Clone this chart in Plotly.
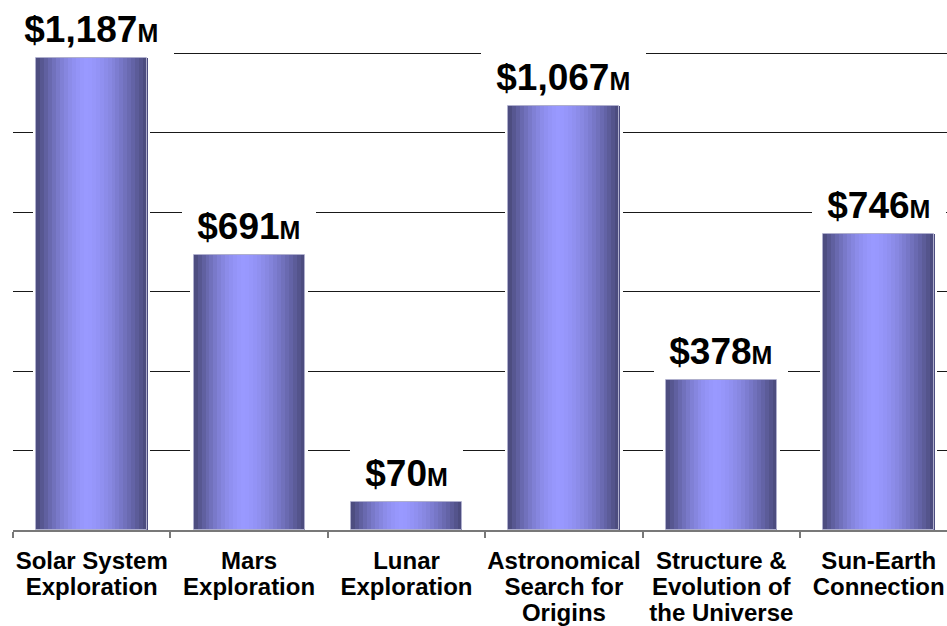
import plotly.graph_objects as go

# Space science budget by theme (millions of US dollars)
program_lines = [
    ["Solar System", "Exploration"],
    ["Mars", "Exploration"],
    ["Lunar", "Exploration"],
    ["Astronomical", "Search for", "Origins"],
    ["Structure &", "Evolution of", "the Universe"],
    ["Sun-Earth", "Connection"],
]
budget_musd = [1187, 691, 70, 1067, 378, 746]

programs = [" ".join(lines) for lines in program_lines]

FONT = "Liberation Sans, Arial, Helvetica, sans-serif"
BAR_W = 0.705          # bar width in category units
N_STRIPS = 28          # vertical strips used to shade each column like a cylinder
DARK = (72, 72, 120)
LIGHT = (153, 153, 255)
PEAK = 0.45            # horizontal position of the highlight
X_RANGE = [-0.5, -0.5 + 934 / 157.4]
LABEL_FONT = dict(family=FONT, size=24, color="black", weight="bold")
LINE_STEP = 26         # px between lines of a category label


def shade(t):
    # brightness profile across the column: dark edges, bright stripe near the middle
    d = (t - PEAK) / (PEAK if t < PEAK else 1 - PEAK)
    f = max(0.0, 1 - abs(d) ** 1.6)
    return "rgb({},{},{})".format(*[round(a + (b - a) * f) for a, b in zip(DARK, LIGHT)])


fig = go.Figure()

# white halo behind each column so the gridlines stop short of it
halo_w = BAR_W + 0.04
fig.add_trace(go.Bar(
    x=programs, y=budget_musd, width=halo_w, offset=-halo_w / 2,
    marker=dict(color="white", line=dict(width=0)), hoverinfo="skip",
))

strip_w = BAR_W / N_STRIPS
for i in range(N_STRIPS):
    t = (i + 0.5) / N_STRIPS
    fig.add_trace(go.Bar(
        x=programs, y=budget_musd,
        width=strip_w * 1.08, offset=-BAR_W / 2 + i * strip_w,
        marker=dict(color=shade(t), line=dict(width=0)), hoverinfo="skip",
    ))

# thin light edge around each column
fig.add_trace(go.Bar(
    x=programs, y=budget_musd, width=BAR_W, offset=-BAR_W / 2,
    marker=dict(color="rgba(0,0,0,0)", line=dict(color="rgb(175,175,205)", width=1)),
    hoverinfo="skip",
))

for p, v in zip(programs, budget_musd):
    fig.add_annotation(
        x=p, y=v, xref="x", yref="y", yanchor="bottom", xanchor="center",
        yshift=3,
        text=f"&nbsp;${v:,}<span style='font-size:25px'>M</span>&nbsp;",
        showarrow=False, bgcolor="white", borderpad=5, borderwidth=0,
        font=dict(family=FONT, size=37, color="black", weight="bold"),
    )


def line_text(k):
    return [lines[k] if k < len(lines) else "" for lines in program_lines]


fig.update_layout(
    width=947, height=626,
    margin=dict(l=13, r=0, t=52, b=96),
    paper_bgcolor="white", plot_bgcolor="white",
    barmode="overlay", bargap=0, showlegend=False,
    xaxis=dict(
        range=X_RANGE,
        tickvals=programs, ticktext=line_text(0),
        showline=True, linecolor="rgb(120,120,120)", linewidth=2,
        ticks="outside", tickson="boundaries", ticklen=6, tickwidth=1.5,
        tickcolor="rgb(120,120,120)", showgrid=False, zeroline=False,
        tickangle=0, automargin=False, ticklabelstandoff=8,
        tickfont=LABEL_FONT,
    ),
    yaxis=dict(
        range=[0, 1203], tickvals=[200, 400, 600, 800, 1000, 1200],
        showticklabels=False,
        showgrid=True, gridcolor="rgb(25,25,25)", gridwidth=1,
        zeroline=False, showline=False,
    ),
)

# second and third lines of the category labels, on overlaid axes
for k, (name, ref) in enumerate((("xaxis2", "x2"), ("xaxis3", "x3")), start=1):
    fig.add_trace(go.Scatter(
        x=list(range(len(programs))), y=budget_musd, xaxis=ref, yaxis="y",
        mode="none", hoverinfo="skip", showlegend=False,
    ))
    fig.update_layout(**{name: dict(
        overlaying="x", anchor="y", side="bottom", type="linear",
        range=X_RANGE, tickmode="array",
        tickvals=list(range(len(programs))), ticktext=line_text(k),
        ticks="outside", ticklen=6, tickcolor="rgba(0,0,0,0)",
        showline=False, showgrid=False, zeroline=False,
        tickangle=0, automargin=False,
        ticklabelstandoff=3 + LINE_STEP * k,
        tickfont=LABEL_FONT,
    )})

fig.write_html("out.html")
